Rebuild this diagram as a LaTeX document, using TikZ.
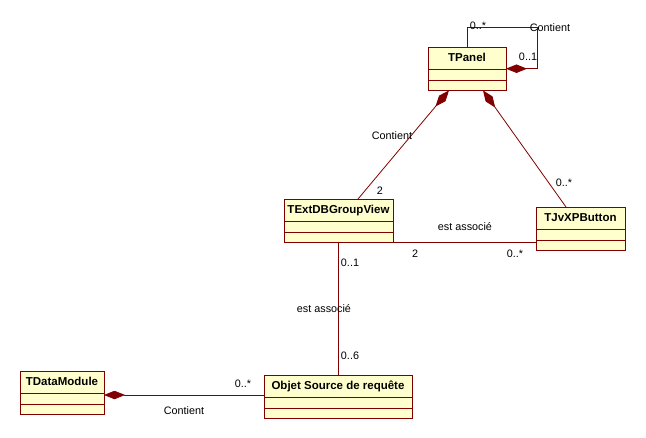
\documentclass[tikz,border=0pt]{standalone}
\usepackage{fontspec}
\setmainfont{Liberation Sans}
\usepackage{tikz}
\usetikzlibrary{positioning,calc,shapes.multipart,arrows.meta}
\usepackage{xcolor}
\definecolor{umlred}{RGB}{128,0,0}
\definecolor{umlfill}{RGB}{255,255,206}

% title strut: 22pt high, baseline 7.5pt above the bottom
\newcommand{\clsname}[1]{\rule[-7.5pt]{0pt}{22pt}#1}

\begin{document}
\begin{tikzpicture}[
  x=1pt, y=-1pt,
  font=\fontsize{10.8}{13}\selectfont,
  cls/.style={rectangle split, rectangle split parts=3, draw=umlred, fill=umlfill,
    line width=0.8pt, inner ysep=0pt, inner xsep=3pt, outer sep=0pt,
    rectangle split empty part height=9.5pt, rectangle split empty part depth=0pt,
    anchor=north west, minimum width=#1, font=\fontsize{11.5}{13}\selectfont\bfseries},
  link/.style={draw=umlred, line width=0.8pt},
  compo/.style={link, {Diamond[length=21pt,width=8.5pt,fill=umlred]}-},
  lbl/.style={inner sep=0pt}
]
\useasboundingbox (0,0) rectangle (646,437);

% classes
\node[cls=78pt] (tpanel) at (428,47) {\clsname{TPanel}\nodepart{two}\nodepart{three}};
\node[cls=109pt] (extdb) at (284,199) {\clsname{TExtDBGroupView}\nodepart{two}\nodepart{three}};
\node[cls=89pt] (button) at (536,207) {\clsname{TJvXPButton}\nodepart{two}\nodepart{three}};
\node[cls=148pt] (source) at (264,375) {\clsname{Objet Source de requête}\nodepart{two}\nodepart{three}};
\node[cls=84pt] (dmodule) at (20,371) {\clsname{TDataModule}\nodepart{two}\nodepart{three}};

% TPanel contient TPanel
\draw[compo] (tpanel.east) -- ++(31,0) -- ++(0,-41) -| (tpanel.north);
\node[lbl] (selfmin) at (478,26) {0..*};
\node[lbl] (selfname) at (550,28) {Contient};
\node[lbl] (selfmax) at (528,57) {0..1};

% TPanel contient TExtDBGroupView
\draw[compo] ([xshift=21pt]tpanel.south west) -- ([xshift=74pt]extdb.north west);
\node[lbl] (gvname) at (392,136) {Contient};
\node[lbl] (gvmult) at (380,191) {2};

% TPanel contient TJvXPButton
\draw[compo] ([xshift=55pt]tpanel.south west) -- ([xshift=30pt]button.north west);
\node[lbl] (btmult) at (564,183) {0..*};

% TExtDBGroupView -- TJvXPButton
\draw[link] (extdb.south east) -- (extdb.south east -| button.west);
\node[lbl] (asname) at (465,227) {est associé};
\node[lbl] (asleft) at (415,254) {2};
\node[lbl] (asright) at (515,254) {0..*};

% TExtDBGroupView -- Objet Source de requête
\draw[link] ([xshift=54pt]extdb.south west) -- ([xshift=54pt]extdb.south west |- source.north);
\node[lbl] (srctop) at (350,263) {0..1};
\node[lbl] (srcname) at (324,309) {est associé};
\node[lbl] (srcbot) at (350,356) {0..6};

% TDataModule contient Objet Source de requête
\draw[compo] ([yshift=-24pt]dmodule.north east) -- ([yshift=-24pt]dmodule.north east -| source.west);
\node[lbl] (dmmult) at (243,384) {0..*};
\node[lbl] (dmname) at (184,411) {Contient};
\end{tikzpicture}
\end{document}
